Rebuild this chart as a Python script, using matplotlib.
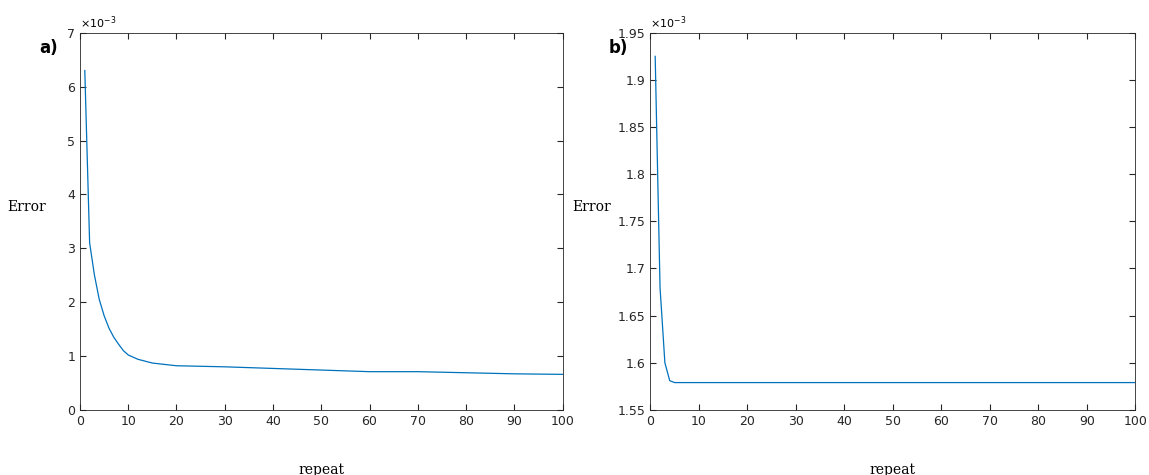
import numpy as np
import matplotlib.pyplot as plt

# panel a) values
rep_a = [1, 2, 3, 4, 5, 6, 7, 8, 9, 10, 12, 15, 20, 25, 30, 40, 50, 60, 70, 80, 90, 100]
err_a = [6.3, 3.1, 2.5, 2.05, 1.75, 1.52, 1.35, 1.22, 1.1, 1.02, 0.94, 0.87, 0.82, 0.81, 0.80,
         0.77, 0.74, 0.71, 0.71, 0.69, 0.67, 0.66]
# panel b)
rep_b = [1, 2, 3, 4, 5, 10, 20, 40, 60, 80, 100]
err_b = [1.925, 1.68, 1.60, 1.581, 1.579, 1.579, 1.579, 1.579, 1.579, 1.579, 1.579]

fig = plt.figure(figsize=(11.49, 4.75), dpi=100)
col = '#0072BD'


def panel(rect, x, y, ylim, yticks, tag, ylab_x):
    ax = fig.add_axes(rect)
    ax.plot(x, np.array(y) * 1e-3, color=col, lw=0.9)
    ax.set_xlim(0, 100)
    ax.set_ylim(ylim[0] * 1e-3, ylim[1] * 1e-3)
    ax.set_xticks(range(0, 101, 10))
    ax.set_yticks(np.array(yticks) * 1e-3)
    ax.set_yticklabels([f'{v:g}' for v in yticks])
    ax.tick_params(direction='in', labelsize=9, colors='#262626', top=True, right=True, length=4)
    for s in ax.spines.values():
        s.set_color('#262626')
        s.set_linewidth(0.6)
    ax.text(0.0, 1.005, r'$\times10^{-3}$', transform=ax.transAxes, fontsize=8, va='bottom')
    ax.set_xlabel('repeat', family='serif', fontsize=10)
    ax.xaxis.set_label_coords(0.5, -0.14)
    ax.set_ylabel('Error', family='serif', fontsize=10, rotation=0)
    ax.yaxis.set_label_coords(ylab_x, 0.52)
    ax.text(-0.085, 0.96, tag, transform=ax.transAxes, fontsize=12, fontweight='bold', va='center')
    return ax


panel([0.0696, 0.137, 0.420, 0.794], rep_a, err_a, (0, 7), [0, 1, 2, 3, 4, 5, 6, 7], 'a)', -0.11)
panel([0.566, 0.137, 0.422, 0.794], rep_b, err_b, (1.55, 1.95),
      [1.55, 1.6, 1.65, 1.7, 1.75, 1.8, 1.85, 1.9, 1.95], 'b)', -0.12)

fig.savefig('out.png', dpi=100)
